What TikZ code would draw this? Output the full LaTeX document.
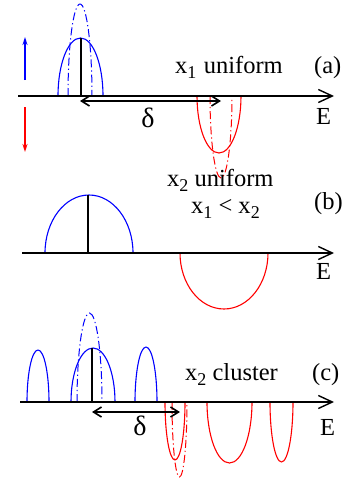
\documentclass[tikz,border=0pt]{standalone}
\usepackage{fontspec}
\setmainfont{Liberation Serif}
\usetikzlibrary{arrows.meta}
\newcommand{\lsub}[1]{\raisebox{-0.22em}{\fontsize{18}{18}\selectfont #1}}

\begin{document}
\begin{tikzpicture}[x=1pt, y=-1pt,
  axis/.style={line width=1.5pt, -{Straight Barb[length=14pt, width=13pt, line width=1.4pt]}},
  gap/.style={line width=1.6pt, {Straight Barb[length=8pt, width=10pt, line width=1.6pt]}-{Straight Barb[length=8pt, width=10pt, line width=1.6pt]}},
  spin/.style={line width=1.4pt, -{Stealth[length=8pt, width=5pt]}},
  dos/.style={line width=1.1pt},
  dosdash/.style={line width=1pt, dash pattern=on 8pt off 3pt on 1.2pt off 3pt},
  peak/.style={line width=1.6pt},
  lbl/.style={font=\fontsize{24.5}{27}\selectfont, anchor=base west, inner sep=0pt}]
  \useasboundingbox (0,0) rectangle (342,482);

  % (a) x1 uniform
  \coordinate (a0) at (18,96);
  \coordinate (a1) at (334,96);
  \coordinate (up0) at (25,80);
  \coordinate (up1) at (25,37);
  \coordinate (dn0) at (25,107);
  \coordinate (dn1) at (25,152);
  \coordinate (da0) at (80,101);
  \coordinate (da1) at (221,101);
  \coordinate (pa0) at (81,96);
  \coordinate (pa1) at (81,38);

  \draw[dos, blue]    (58,96)  arc[start angle=180, end angle=0, x radius=22.5pt, y radius=58pt];
  \draw[dosdash, blue] (68,96) arc[start angle=180, end angle=0, x radius=12pt, y radius=92pt];
  \draw[dos, red]     (197,96) arc[start angle=180, end angle=360, x radius=22pt, y radius=57pt];
  \draw[dosdash, red] (210,96) arc[start angle=180, end angle=360, x radius=11pt, y radius=82pt];

  \draw[axis] (a0) -- (a1);
  \draw[peak] (pa0) -- (pa1);
  \draw[gap] (da0) -- (da1);
  \draw[spin, blue] (up0) -- (up1);
  \draw[spin, red] (dn0) -- (dn1);

  \node (lbla) [lbl] at (175,73) {x\lsub{1}\hspace{0.3em}uniform};
  \node (taga) [lbl] at (314,73) {(a)};
  \node (ea)   [lbl] at (316,124) {E};
  \node (dla)  [lbl, anchor=base, font=\fontsize{28}{30}\selectfont] at (148,127) {δ};

  % (b) x2 uniform
  \coordinate (b0) at (22,253);
  \coordinate (b1) at (334,253);
  \coordinate (pb0) at (88,253);
  \coordinate (pb1) at (88,195);

  \draw[dos, blue] (45,253)  arc[start angle=180, end angle=0, x radius=44pt, y radius=58pt];
  \draw[dos, red]  (180,253) arc[start angle=180, end angle=360, x radius=44pt, y radius=56pt];

  \draw[axis] (b0) -- (b1);
  \draw[peak] (pb0) -- (pb1);

  \node (lblb)  [lbl] at (167,186) {x\lsub{2} uniform};
  \node (condb) [lbl] at (191,213) {x\lsub{1} < x\lsub{2}};
  \node (tagb)  [lbl] at (314,209) {(b)};
  \node (eb)    [lbl] at (316,279) {E};

  % (c) x2 cluster
  \coordinate (c0) at (20,402);
  \coordinate (c1) at (334,402);
  \coordinate (pc0) at (92,402);
  \coordinate (pc1) at (92,348);
  \coordinate (dc0) at (92,412);
  \coordinate (dc1) at (180,412);

  \draw[dos, blue] (27,402)  arc[start angle=180, end angle=0, x radius=11pt, y radius=52pt];
  \draw[dos, blue] (71,402)  arc[start angle=180, end angle=0, x radius=22pt, y radius=54pt];
  \draw[dosdash, blue] (77,402) arc[start angle=180, end angle=0, x radius=12.5pt, y radius=89pt];
  \draw[dos, blue] (135,402) arc[start angle=180, end angle=0, x radius=11pt, y radius=55pt];
  \draw[dos, red]  (165,402) arc[start angle=180, end angle=360, x radius=10pt, y radius=58pt];
  \draw[dosdash, red] (172,402) arc[start angle=180, end angle=360, x radius=7.5pt, y radius=75pt];
  \draw[dos, red]  (207,402) arc[start angle=180, end angle=360, x radius=22.5pt, y radius=61pt];
  \draw[dos, red]  (270,402) arc[start angle=180, end angle=360, x radius=11.5pt, y radius=60pt];

  \draw[axis] (c0) -- (c1);
  \draw[peak] (pc0) -- (pc1);
  \draw[gap] (dc0) -- (dc1);

  \node (lblc) [lbl] at (185,380) {x\lsub{2} cluster};
  \node (tagc) [lbl] at (312,380) {(c)};
  \node (ec)   [lbl] at (320,435) {E};
  \node (dlc)  [lbl, anchor=base, font=\fontsize{28}{30}\selectfont] at (140,435) {δ};
\end{tikzpicture}
\end{document}
